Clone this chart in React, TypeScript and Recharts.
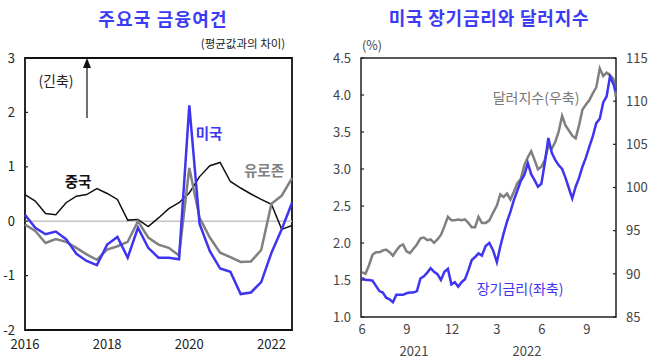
import { LineChart, Line, XAxis, YAxis, ReferenceLine, ReferenceArea } from 'recharts';

// ---- left panel: quarterly financial conditions (deviation from mean) ----
const QUARTERS = [
  '2016Q1', '2016Q2', '2016Q3', '2016Q4',
  '2017Q1', '2017Q2', '2017Q3', '2017Q4',
  '2018Q1', '2018Q2', '2018Q3', '2018Q4',
  '2019Q1', '2019Q2', '2019Q3', '2019Q4',
  '2020Q1', '2020Q2', '2020Q3', '2020Q4',
  '2021Q1', '2021Q2', '2021Q3', '2021Q4',
  '2022Q1', '2022Q2', '2022Q3',
];
const US_FCI = [
  0.12, -0.12, -0.24, -0.19, -0.33, -0.6, -0.73, -0.81, -0.43, -0.29, -0.67, -0.12, -0.49, -0.67,
  -0.67, -0.7, 2.13, -0.05, -0.55, -0.87, -0.93, -1.34, -1.31, -1.12, -0.58, -0.15, 0.34,
];
const EURO_FCI = [
  -0.06, -0.18, -0.4, -0.33, -0.38, -0.49, -0.61, -0.71, -0.52, -0.46, -0.38, 0.0, -0.3, -0.43,
  -0.49, -0.63, 0.98, 0.06, -0.3, -0.58, -0.66, -0.75, -0.74, -0.53, 0.32, 0.47, 0.79,
];
const CHINA_FCI = [
  0.49, 0.37, 0.14, 0.12, 0.34, 0.46, 0.49, 0.6, 0.51, 0.4, 0.02, 0.03, -0.1, 0.06,
  0.23, 0.34, 0.52, 0.82, 1.02, 1.08, 0.73, 0.61, 0.5, 0.4, 0.31, -0.15, -0.08,
];
const FCI_TICKS = [-2, -1, 0, 1, 2, 3];

// ---- right panel: weekly US 10y yield (left axis) and dollar index (right axis) ----
const WEEKS = [
  '2021-06-01', '2021-06-08', '2021-06-15', '2021-06-22', '2021-06-29', '2021-07-06', '2021-07-13',
  '2021-07-20', '2021-07-27', '2021-08-03', '2021-08-10', '2021-08-17', '2021-08-24', '2021-08-31',
  '2021-09-07', '2021-09-14', '2021-09-21', '2021-09-28', '2021-10-05', '2021-10-12', '2021-10-19',
  '2021-10-26', '2021-11-02', '2021-11-09', '2021-11-16', '2021-11-23', '2021-11-30', '2021-12-07',
  '2021-12-14', '2021-12-21', '2021-12-28', '2022-01-04', '2022-01-11', '2022-01-18', '2022-01-25',
  '2022-02-01', '2022-02-08', '2022-02-15', '2022-02-22', '2022-03-01', '2022-03-08', '2022-03-15',
  '2022-03-22', '2022-03-29', '2022-04-05', '2022-04-12', '2022-04-19', '2022-04-26', '2022-05-03',
  '2022-05-10', '2022-05-17', '2022-05-24', '2022-05-31', '2022-06-07', '2022-06-14', '2022-06-21',
  '2022-06-28', '2022-07-05', '2022-07-12', '2022-07-19', '2022-07-26', '2022-08-02', '2022-08-09',
  '2022-08-16', '2022-08-23', '2022-08-30', '2022-09-06', '2022-09-13', '2022-09-20', '2022-09-27',
  '2022-10-04', '2022-10-11', '2022-10-18', '2022-10-25', '2022-10-30',
];
const UST10Y = [
  1.53, 1.5, 1.5, 1.49, 1.42, 1.35, 1.33, 1.26, 1.24, 1.2, 1.3, 1.3, 1.3, 1.32,
  1.33, 1.33, 1.35, 1.52, 1.55, 1.6, 1.66, 1.61, 1.58, 1.5, 1.61, 1.65, 1.44, 1.47,
  1.41, 1.47, 1.51, 1.63, 1.77, 1.81, 1.86, 1.83, 1.96, 2.0, 1.9, 1.74, 1.95, 2.13,
  2.29, 2.42, 2.58, 2.71, 2.84, 2.92, 3.08, 2.93, 2.85, 2.76, 2.8, 3.08, 3.42, 3.22,
  3.12, 3.05, 3.0, 2.88, 2.74, 2.6, 2.76, 2.88, 3.03, 3.15, 3.3, 3.44, 3.62, 3.68,
  3.9, 3.98, 4.25, 4.15, 4.05,
];
const DXY = [
  90.2, 90.0, 91.0, 92.2, 92.5, 92.5, 92.7, 92.8, 92.5, 92.1, 92.7, 93.2, 93.4, 92.6,
  92.4, 92.9, 93.4, 94.1, 94.2, 93.9, 94.0, 93.6, 94.0, 94.5, 95.5, 96.6, 96.2, 96.2,
  96.3, 96.2, 96.3, 95.9, 95.4, 95.4, 96.6, 95.9, 95.9, 96.2, 97.1, 97.9, 99.2, 98.9,
  99.3, 98.6, 99.5, 100.5, 101.0, 102.6, 103.5, 104.2, 103.2, 102.1, 102.4, 103.2, 104.8, 104.5,
  105.3, 106.5, 108.3, 107.2, 106.6, 106.0, 105.7, 107.2, 109.0, 109.6, 110.1, 110.9, 111.6, 113.8,
  112.9, 113.3, 113.0, 112.6, 110.5,
];
const RATE_TICKS = [1, 1.5, 2, 2.5, 3, 3.5, 4, 4.5];
const DXY_TICKS = [85, 90, 95, 100, 105, 110, 115];
const MONTH_TICKS = [0, 3, 6, 9, 12, 15];
const MONTH_LABELS = ['6', '9', '12', '3', '6', '9'];

const FONT = '"Noto Sans CJK KR", "Noto Sans", sans-serif';
const BLUE = '#3f35f0';
const GRAY = '#808080';

// months elapsed since 2021-06-01
const toMonths = (d: string) => {
  const [y, m, day] = d.split('-').map(Number);
  const dim = new Date(y, m, 0).getDate();
  return (y - 2021) * 12 + (m - 6) + (day - 1) / dim;
};

const fciRows = QUARTERS.map((q, i) => ({
  q, us: US_FCI[i], euro: EURO_FCI[i], china: CHINA_FCI[i],
}));
const rateRows = WEEKS.map((w, i) => ({ m: toMonths(w), ust: UST10Y[i], dxy: DXY[i] }));

/* y tick with a short inward mark on the frame */
const InTick = ({ x, y, payload, side, fmt, color }: any) => {
  const edge = side === 'left' ? x + 10 : x - 10;
  const dir = side === 'left' ? 1 : -1;
  return (
    <g>
      <line x1={edge} x2={edge + dir * 3} y1={y} y2={y} stroke="#222" strokeWidth={1.2} />
      <text
        x={x}
        y={y}
        dy="0.36em"
        textAnchor={side === 'left' ? 'end' : 'start'}
        fill={color}
        fontSize={13}
        fontFamily={FONT}
      >
        {fmt ? fmt(payload.value) : payload.value}
      </text>
    </g>
  );
};

const Note = ({ x, y, size, color, bold, spacing, children }: any) => (
  <div
    style={{
      position: 'absolute', left: x, top: y, transform: 'translate(-50%, -50%)',
      fontSize: size, color, fontWeight: bold ? 700 : 400, fontFamily: FONT,
      whiteSpace: 'nowrap', lineHeight: 1, letterSpacing: spacing || 0,
    }}
  >
    {children}
  </div>
);

export default function App() {
  return (
    <div style={{ position: 'absolute', left: 0, top: 0, width: 655, height: 361, background: '#fff', overflow: 'hidden' }}>
      <div style={{ position: 'absolute', left: 0, top: 0 }}>
        <LineChart width={320} height={361} data={fciRows} margin={{ top: 58, right: 28, bottom: 0, left: 0 }}>
          <XAxis
            dataKey="q"
            interval={7}
            height={31}
            axisLine={false}
            tickLine={false}
            tickSize={0}
            tickMargin={10}
            tickFormatter={(q: string) => q.slice(0, 4)}
            tick={{ fill: '#222', fontSize: 13, fontFamily: FONT }}
          />
          <YAxis
            domain={[-2, 3]}
            ticks={FCI_TICKS}
            width={25}
            axisLine={false}
            tickLine={false}
            tickSize={0}
            tickMargin={10}
            tick={(p: any) => <InTick {...p} side="left" color="#222" />}
          />
          <ReferenceArea y1={-2} y2={3} fill="none" stroke="#111" strokeWidth={1.8} />
          <ReferenceLine y={0} stroke="#c4c4c4" strokeWidth={1.5} />
          <Line dataKey="china" stroke="#111" strokeWidth={1.5} dot={false} isAnimationActive={false} />
          <Line dataKey="euro" stroke={GRAY} strokeWidth={2.5} dot={false} isAnimationActive={false} />
          <Line dataKey="us" stroke={BLUE} strokeWidth={2.5} dot={false} isAnimationActive={false} />
        </LineChart>
      </div>

      <div style={{ position: 'absolute', left: 320, top: 0 }}>
        <LineChart width={335} height={361} data={rateRows} margin={{ top: 58, right: 0, bottom: 0, left: 1 }}>
          <XAxis
            dataKey="m"
            type="number"
            domain={[-0.067, 16.95]}
            ticks={MONTH_TICKS}
            tickFormatter={(v: number) => MONTH_LABELS[MONTH_TICKS.indexOf(v)]}
            height={44}
            axisLine={false}
            tickLine={false}
            tickSize={0}
            tickMargin={8}
            tick={{ fill: '#444', fontSize: 13, fontFamily: FONT }}
          />
          <YAxis
            yAxisId="left"
            domain={[1, 4.5]}
            ticks={RATE_TICKS}
            width={40}
            axisLine={false}
            tickLine={false}
            tickSize={0}
            tickMargin={10}
            tick={(p: any) => <InTick {...p} side="left" color="#444" fmt={(v: number) => v.toFixed(1)} />}
          />
          <YAxis
            yAxisId="right"
            orientation="right"
            domain={[85, 115]}
            ticks={DXY_TICKS}
            width={39}
            axisLine={false}
            tickLine={false}
            tickSize={0}
            tickMargin={10}
            tick={(p: any) => <InTick {...p} side="right" color="#444" />}
          />
          <ReferenceArea yAxisId="left" y1={1} y2={4.5} fill="none" stroke="#222" strokeWidth={1.5} />
          <Line yAxisId="right" dataKey="dxy" stroke={GRAY} strokeWidth={2.5} dot={false} isAnimationActive={false} />
          <Line yAxisId="left" dataKey="ust" stroke={BLUE} strokeWidth={2.5} dot={false} isAnimationActive={false} />
        </LineChart>
      </div>

      <Note x={163} y={18} size={18} color="#3b3bf5" bold spacing={1.2}>주요국 금융여건</Note>
      <Note x={489} y={17} size={18} color="#3b3bf5" bold spacing={0.8}>미국 장기금리와 달러지수</Note>
      <Note x={243} y={44} size={11.5} color="#222">(평균값과의 차이)</Note>
      <Note x={56} y={80} size={14} color="#222">(긴축)</Note>
      <Note x={209} y={133} size={14.5} color={BLUE} bold>미국</Note>
      <Note x={264} y={170} size={14.5} color={GRAY} bold>유로존</Note>
      <Note x={78} y={181} size={14.5} color="#111" bold>중국</Note>
      <Note x={372} y={45} size={12.5} color="#444">(%)</Note>
      <Note x={536} y={97} size={14} color="#777">달러지수(우축)</Note>
      <Note x={520} y={288} size={14} color={BLUE}>장기금리(좌축)</Note>
      <Note x={414} y={350} size={13} color="#444">2021</Note>
      <Note x={527} y={350} size={13} color="#444">2022</Note>

      <svg width={20} height={70} style={{ position: 'absolute', left: 77, top: 55 }}>
        <line x1={10} y1={63} x2={10} y2={12} stroke="#111" strokeWidth={1.2} />
        <polygon points="10,3 6,13 14,13" fill="#111" />
      </svg>
    </div>
  );
}
